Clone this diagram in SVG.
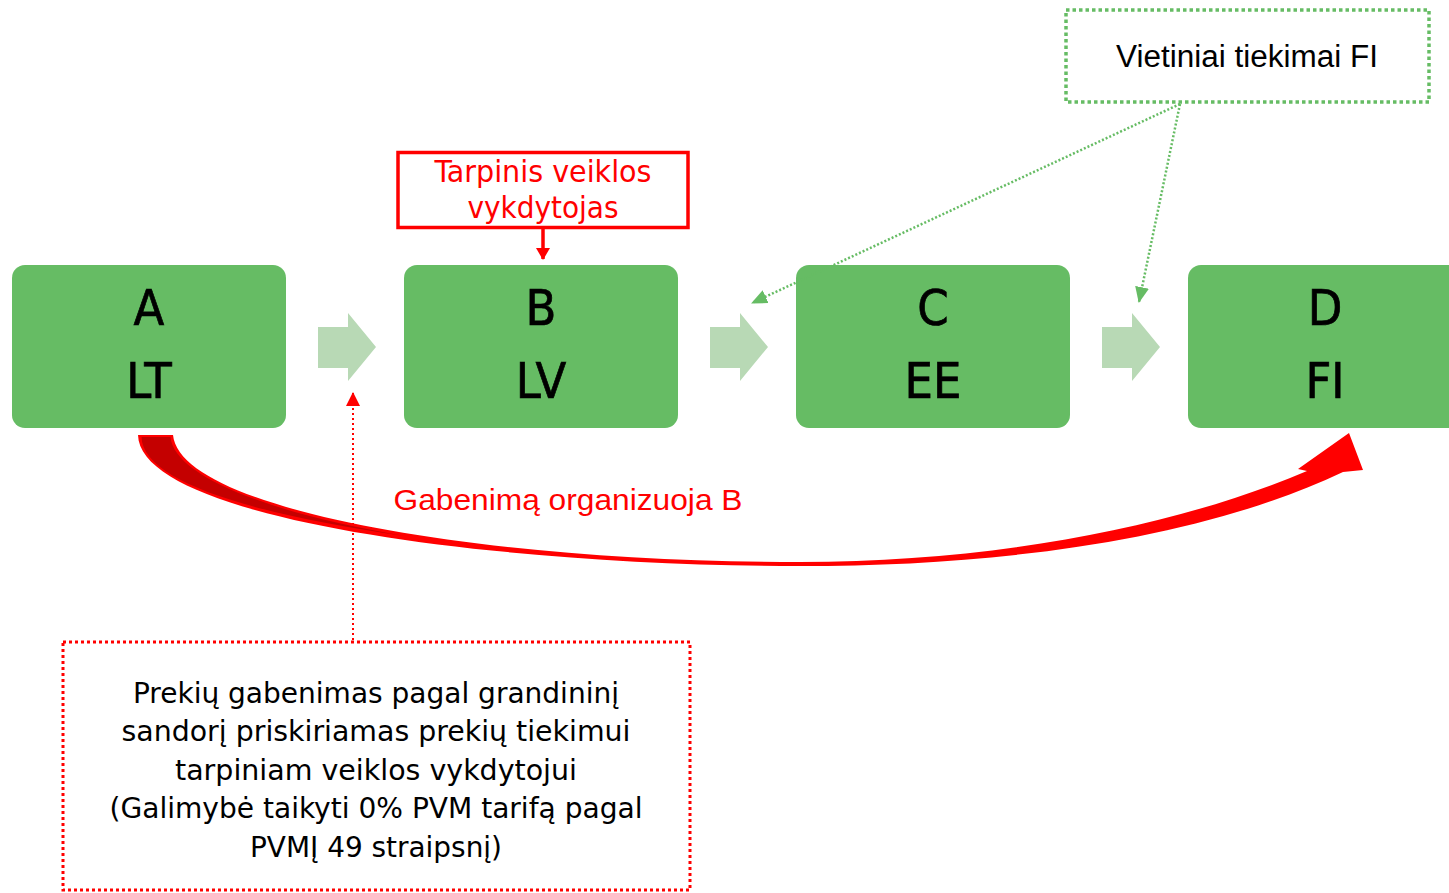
<svg xmlns="http://www.w3.org/2000/svg" width="1449" height="893" viewBox="0 0 1449 893">
<style>
.box{fill:#66BC64}
.step{fill:#B8D9B5}
.big{font-family:"DejaVu Sans",sans-serif;font-stretch:condensed;font-size:50px;fill:#000;stroke:#000;stroke-width:0.7;text-anchor:middle}
.cond{font-family:"DejaVu Sans",sans-serif;font-stretch:condensed;text-anchor:middle}
.arial{font-family:"Liberation Sans",Arial,sans-serif;text-anchor:middle}
.gdot{fill:none;stroke:#66BC64;stroke-width:2.5;stroke-dasharray:2 2}
</style>
<defs>
<marker id="mg" markerUnits="userSpaceOnUse" markerWidth="16" markerHeight="14" refX="15" refY="7" orient="auto">
<path d="M0,0 L16,7 L0,14 Z" fill="#66BC64"/>
</marker>
<marker id="mr" markerUnits="userSpaceOnUse" markerWidth="14" markerHeight="14" refX="13" refY="7" orient="auto">
<path d="M0,0 L14,7 L0,14 Z" fill="#FF0000"/>
</marker>
<marker id="mr2" markerUnits="userSpaceOnUse" markerWidth="12" markerHeight="14" refX="11" refY="7" orient="auto">
<path d="M0,0 L12,7 L0,14 Z" fill="#FF0000"/>
</marker>
</defs>
<rect width="1449" height="893" fill="#fff"/>

<g id="steps">
<polygon class="step" points="318,327 348,327 348,313 376,347 348,381 348,368 318,368"/>
<polygon class="step" points="710,327 740,327 740,313 768,347 740,381 740,368 710,368"/>
<polygon class="step" points="1102,327 1132,327 1132,313 1160,347 1132,381 1132,368 1102,368"/>
</g>

<g id="nodeA">
<rect class="box" x="12" y="265" width="274" height="163" rx="13"/>
<text class="big" x="149" y="325">A</text>
<text class="big" x="149" y="398">LT</text>
</g>
<g id="nodeB">
<rect class="box" x="404" y="265" width="274" height="163" rx="13"/>
<text class="big" x="541" y="325">B</text>
<text class="big" x="541" y="398">LV</text>
</g>
<g id="nodeC">
<rect class="box" x="796" y="265" width="274" height="163" rx="13"/>
<text class="big" x="933" y="325">C</text>
<text class="big" x="933" y="398">EE</text>
</g>
<g id="nodeD">
<rect class="box" x="1188" y="265" width="280" height="163" rx="13"/>
<text class="big" x="1325" y="325">D</text>
<text class="big" x="1325" y="398">FI</text>
</g>

<g id="tarpinis">
<rect x="398" y="152.5" width="290" height="75" fill="#fff" stroke="#FF0000" stroke-width="3.5"/>
<text class="cond" x="543" y="182" font-size="30" fill="#FF0000" textLength="217" lengthAdjust="spacingAndGlyphs">Tarpinis veiklos</text>
<text class="cond" x="543" y="218" font-size="30" fill="#FF0000" textLength="151" lengthAdjust="spacingAndGlyphs">vykdytojas</text>
</g>

<g id="vietiniai">
<rect x="1066" y="10" width="363" height="92" fill="none" stroke="#66BC64" stroke-width="3.5" stroke-dasharray="3.5 3"/>
<text class="arial" x="1247" y="67" font-size="31" fill="#000" textLength="262" lengthAdjust="spacingAndGlyphs">Vietiniai tiekimai FI</text>
</g>

<g id="note">
<rect x="63" y="642" width="627" height="248" fill="none" stroke="#FF0000" stroke-width="3" stroke-dasharray="3 3"/>
<g class="cond" font-size="28" fill="#000">
<text x="376" y="703" textLength="486" lengthAdjust="spacingAndGlyphs">Prekių gabenimas pagal grandininį</text>
<text x="376" y="741" textLength="509" lengthAdjust="spacingAndGlyphs">sandorį priskiriamas prekių tiekimui</text>
<text x="376" y="780" textLength="402" lengthAdjust="spacingAndGlyphs">tarpiniam veiklos vykdytojui</text>
<text x="376" y="818" textLength="533" lengthAdjust="spacingAndGlyphs">(Galimybė taikyti 0% PVM tarifą pagal</text>
<text x="376" y="857" textLength="252" lengthAdjust="spacingAndGlyphs">PVMĮ 49 straipsnį)</text>
</g>
</g>

<g id="curved-label">
<text class="arial" x="568" y="510" font-size="30" fill="#FF0000" textLength="349" lengthAdjust="spacingAndGlyphs">Gabenimą organizuoja B</text>
</g>

<g id="connectors">
<path d="M138,435 C140,520 500,566 800,566 C1000,566 1200,540 1343,472 L1363,470 L1349,433 L1298,469 L1307,471 C1180,525 1000,562 800,562 C480,562 180,510 173,435 Z" fill="#FF0000"/>
<path d="M141.5,437 L170.5,437 C174,476 268,513 405,536 C250,514 142.5,481 141.5,437 Z" fill="#C40000"/>
<line x1="543" y1="229" x2="543" y2="259" stroke="#FF0000" stroke-width="3.5" marker-end="url(#mr2)"/>
<line x1="353" y1="640" x2="353" y2="393" stroke="#FF0000" stroke-width="2" stroke-dasharray="2 3" marker-end="url(#mr)"/>
<line class="gdot" x1="1180" y1="104" x2="752" y2="303" marker-end="url(#mg)"/>
<line class="gdot" x1="1180" y1="104" x2="1139" y2="302" marker-end="url(#mg)"/>
</g>
</svg>
